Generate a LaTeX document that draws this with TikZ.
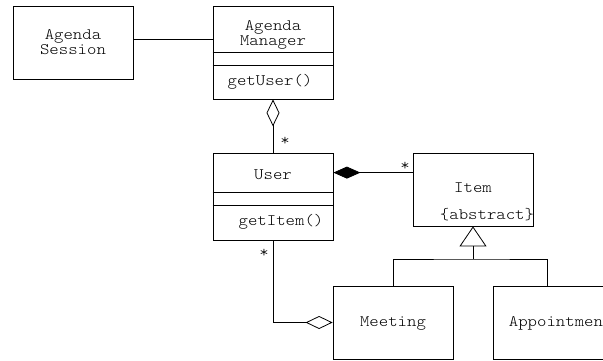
\documentclass[tikz,border=0pt]{standalone}
\usepackage{fontspec}
\newfontfamily\cour[FakeStretch=1.12]{Latin Modern Mono Light}
\usetikzlibrary{arrows.meta}
\begin{document}
\begin{tikzpicture}[x=1pt,y=-1pt,
  line width=0.8pt,
  every node/.style={font=\cour\fontsize{16}{15}\selectfont},
  cls/.style={draw, rectangle, inner sep=0pt, align=center},
  txt/.style={inner sep=0pt, align=center},
  aggr/.style={{Diamond[open,length=27pt,width=13pt]}-},
  comp/.style={{Diamond[length=27pt,width=12pt]}-},
  gen/.style={-{Triangle[open,length=20pt,width=27pt]}}]
\useasboundingbox (0,0) rectangle (603,361);
\clip (0,0) rectangle (603,361);
% boxes
\node[cls, minimum width=120pt, minimum height=73pt] (sess) at (73,42.5) {};
\node[txt] (sesst) at (73,42) {Agenda\\Session};
\node[cls, minimum width=120pt, minimum height=93pt] (mgr) at (273,52.5) {};
\node[txt] (mgrt) at (273,35) {Agenda\\Manager};
\node[txt] (mgrop) at (270,82) {getUser()};
\draw ([yshift=-47pt]mgr.north west) -- ([yshift=-47pt]mgr.north east);
\draw ([yshift=-60pt]mgr.north west) -- ([yshift=-60pt]mgr.north east);
\node[cls, minimum width=120pt, minimum height=87pt] (user) at (273,196.5) {};
\node[txt] (usert) at (273,175) {User};
\node[txt] (userop) at (281,222) {getItem()};
\draw ([yshift=-40pt]user.north west) -- ([yshift=-40pt]user.north east);
\draw ([yshift=-53pt]user.north west) -- ([yshift=-53pt]user.north east);
\node[cls, minimum width=120pt, minimum height=73pt] (item) at (473,189.5) {};
\node[txt] (itemt) at (473,188) {Item};
\node[txt] (itemabs) at (487,215) {\{abstract\}};
\node[cls, minimum width=120pt, minimum height=73pt] (meet) at (393,322.5) {};
\node[txt] (meett) at (393,323) {Meeting};
\node[cls, minimum width=120pt, minimum height=73pt] (appt) at (553,322.5) {};
\node[txt, anchor=west] (apptt) at (508.5,323) {Appointment};
% connectors
\draw ([yshift=3.5pt]sess.east) -- ([yshift=3.5pt]sess.east -| mgr.west);
\draw[aggr] (mgr.south) -- (user.north);
\node[txt] (s1) at (285,141) {*};
\draw[comp] ([yshift=-20pt]user.north east) -- ([yshift=-20pt]user.north east -| item.west);
\node[txt] (s2) at (405,166) {*};
\coordinate (j) at (473,259);
\coordinate (apin) at ([xshift=-6pt]appt.north);
\draw[gen] (j) -- (item.south);
\draw (meet.north) |- (j) -| (apin);
\draw[aggr] (meet.west) -| (user.south);
\node[txt] (s3) at (264,253) {*};
\end{tikzpicture}
\end{document}
